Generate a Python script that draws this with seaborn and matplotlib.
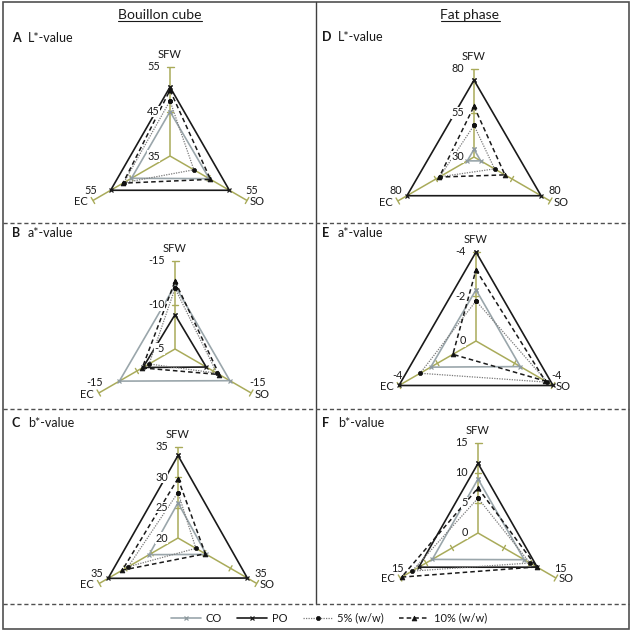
import numpy as np
import pandas as pd
import matplotlib
matplotlib.use("Agg")
import matplotlib.pyplot as plt
from matplotlib.lines import Line2D
from matplotlib.patches import Rectangle
import seaborn as sns

sns.set_theme(style="white")
plt.rcParams["font.family"] = ["Lato", "DejaVu Sans"]

W = 631
DPI = 100

# ---------------- data ----------------
spokes = ["SFW", "SO", "EC"]
series_names = ["CO", "PO", "5% (w/w)", "10% (w/w)"]
col_titles = ["Bouillon cube", "Fat phase"]
panel_letters = ["A", "B", "C", "D", "E", "F"]
panel_measures = ["L*-value", "a*-value", "b*-value", "L*-value", "a*-value", "b*-value"]

# radial range (centre value, outer value) and tick labels of each panel
A_range = (35, 55); A_ticks = [35, 45, 55]
B_range = (-5, -15); B_ticks = [-5, -10, -15]
C_range = (20, 35); C_ticks = [20, 25, 30, 35]
D_range = (30, 80); D_ticks = [30, 55, 80]
E_range = (0, -4); E_ticks = [0, -2, -4]
F_range = (0, 15); F_ticks = [0, 5, 10, 15]

# values in spoke order SFW, SO, EC
A_CO = [45.0, 45.2, 45.0]
A_PO = [50.5, 50.4, 50.4]
A_5 = [47.4, 41.2, 47.0]
A_10 = [49.8, 45.5, 47.2]

B_CO = [-12.2, -12.2, -12.3]
B_PO = [-8.9, -9.1, -9.2]
B_5 = [-11.9, -10.5, -8.4]
B_10 = [-12.7, -10.8, -9.3]

C_CO = [25.8, 25.4, 25.5]
C_PO = [33.6, 33.2, 33.3]
C_5 = [27.5, 23.4, 29.5]
C_10 = [29.8, 25.2, 30.6]

D_CO = [34.4, 34.4, 34.4]
D_PO = [73.7, 74.0, 74.0]
D_5 = [48.0, 43.5, 52.5]
D_10 = [58.8, 50.3, 52.8]

E_CO = [-2.3, -2.3, -2.35]
E_PO = [-4.0, -4.0, -4.0]
E_5 = [-1.8, -3.7, -2.9]
E_10 = [-3.2, -3.6, -1.2]

F_CO = [9.0, 8.9, 8.8]
F_PO = [11.6, 11.4, 11.4]
F_5 = [5.8, 10.0, 12.7]
F_10 = [7.5, 11.3, 14.7]

panels = [
    (A_range, A_ticks, [A_CO, A_PO, A_5, A_10]),
    (B_range, B_ticks, [B_CO, B_PO, B_5, B_10]),
    (C_range, C_ticks, [C_CO, C_PO, C_5, C_10]),
    (D_range, D_ticks, [D_CO, D_PO, D_5, D_10]),
    (E_range, E_ticks, [E_CO, E_PO, E_5, E_10]),
    (F_range, F_ticks, [F_CO, F_PO, F_5, F_10]),
]

# ---------------- layout / style ----------------
centers = [(170, 156, 89), (175, 349, 88), (178, 538, 91),
           (474, 157, 88), (476, 341, 89), (478, 533, 90)]
label_pos = [(12, 38), (12, 233), (12, 423), (322, 37), (322, 233), (322, 423)]

SPOKE_C = "#a9ab5a"
styles = [
    dict(color="#9aa6ab", linewidth=1.2, linestyle="-", marker="x", markersize=3.2,
         markeredgewidth=0.9, markeredgecolor="#8d999e"),
    dict(color="#1a1a1a", linewidth=1.2, linestyle="-", marker="x", markersize=3.2,
         markeredgewidth=0.9, markeredgecolor="#1a1a1a"),
    dict(color="#7a7a7a", linewidth=0.9, linestyle=(0, (1, 1)), marker="o", markersize=3,
         markeredgewidth=0.5, markeredgecolor="#111111", markerfacecolor="#111111"),
    dict(color="#1a1a1a", linewidth=1.1, linestyle=(0, (3, 2)), marker="^", markersize=3.5,
         markeredgewidth=0.5, markeredgecolor="#111111", markerfacecolor="#111111"),
]

fig = plt.figure(figsize=(W / DPI, W / DPI), dpi=DPI)
ov = fig.add_axes([0, 0, 1, 1], zorder=0)
ov.set_xlim(0, W)
ov.set_ylim(W, 0)
ov.axis("off")

# frame, divider, dashed separators
ov.add_patch(Rectangle((3, 2), 626, 627, fill=False, lw=1.2, ec="#505050"))
ov.plot([315.5, 315.5], [2, 604], color="#404040", lw=1.0)
for yy in [223, 409, 604]:
    ov.plot([3, 629], [yy, yy], color="#505050", lw=1.0, linestyle=(0, (3, 2)))

# column titles (underlined)
title_texts = []
for tx, title in zip([160, 470], col_titles):
    t = ov.text(tx, 15, title, ha="center", va="center", fontsize=10, color="#1a1a1a")
    title_texts.append(t)

# panel labels
for (px, py), letter, meas in zip(label_pos, panel_letters, panel_measures):
    ov.text(px, py, letter, ha="left", va="center", fontsize=9, fontweight="bold", color="#1a1a1a")
    ov.text(px + 16, py, meas, ha="left", va="center", fontsize=9, color="#1a1a1a")

ang = np.deg2rad([90, -30, 210])
L = 1.35

for (cx, cy, R), (rng, ticks, data) in zip(centers, panels):
    ax = fig.add_axes([(cx - L * R) / W, 1 - (cy + L * R) / W, 2 * L * R / W, 2 * L * R / W],
                      zorder=1)
    ax.set_facecolor("none")
    ax.set_xlim(-L, L)
    ax.set_ylim(-L, L)
    ax.axis("off")
    lo, hi = rng
    px1 = 1.0 / R  # one pixel in data units

    # spokes with caps and tick marks
    rt = [(t - lo) / (hi - lo) for t in ticks]
    for a in ang:
        ux, uy = np.cos(a), np.sin(a)
        vx, vy = -uy, ux
        ax.plot([0, ux], [0, uy], color=SPOKE_C, lw=1.1, zorder=1, solid_capstyle="butt")
        ax.plot([ux - vx * 3.5 * px1, ux + vx * 3.5 * px1],
                [uy - vy * 3.5 * px1, uy + vy * 3.5 * px1], color=SPOKE_C, lw=1.0, zorder=1)
        for r in rt:
            if 0 < r < 1:
                ax.plot([r * ux - vx * 3 * px1, r * ux + vx * 3 * px1],
                        [r * uy - vy * 3 * px1, r * uy + vy * 3 * px1], color=SPOKE_C, lw=1.0, zorder=1)

    # series
    for vals, st in zip(data, styles):
        r = (np.asarray(vals, float) - lo) / (hi - lo)
        xs = np.r_[r * np.cos(ang), r[0] * np.cos(ang[0])]
        ys = np.r_[r * np.sin(ang), r[0] * np.sin(ang[0])]
        df = pd.DataFrame({"x": xs, "y": ys})
        sns.lineplot(data=df, x="x", y="y", sort=False, estimator=None, ax=ax,
                     zorder=3, clip_on=False, **st)
    ax.set_xlim(-L, L)
    ax.set_ylim(-L, L)
    ax.axis("off")

    # tick labels on the SFW spoke
    for t, r in zip(ticks, rt):
        ax.text(-10 * px1, r, f"{t}", ha="right", va="center", fontsize=7.8, color="#1a1a1a",
                zorder=6, bbox=dict(facecolor="white", edgecolor="none", pad=0.2))
    # outer labels on EC and SO spokes
    ecx, ecy = np.cos(ang[2]), np.sin(ang[2])
    sox, soy = np.cos(ang[1]), np.sin(ang[1])
    ax.text(ecx + 4 * px1, ecy + 10 * px1, f"{ticks[-1]}", ha="right", va="center",
            fontsize=7.8, color="#1a1a1a", zorder=6)
    ax.text(sox - 2 * px1, soy + 10 * px1, f"{ticks[-1]}", ha="left", va="center",
            fontsize=7.8, color="#1a1a1a", zorder=6)
    # spoke names
    ax.text(0, 1 + 12 * px1, spokes[0], ha="center", va="center", fontsize=8, color="#1a1a1a")
    ax.text(sox + 3 * px1, soy - 1 * px1, spokes[1], ha="left", va="center", fontsize=8, color="#1a1a1a")
    ax.text(ecx - 5 * px1, ecy - 1 * px1, spokes[2], ha="right", va="center", fontsize=8, color="#1a1a1a")

# legend
handles = [Line2D([0], [0], **st) for st in styles]
fig.legend(handles, series_names, loc="center", bbox_to_anchor=(329 / W, 1 - 618 / W),
           ncol=4, frameon=False, fontsize=8, handlelength=2.7, handletextpad=0.4,
           columnspacing=1.4, numpoints=1, labelcolor="#1a1a1a")

# underline titles
fig.canvas.draw()
for t in title_texts:
    bb = t.get_window_extent()
    ov.plot([bb.x0, bb.x1], [21, 21], color="#1a1a1a", lw=0.8)

fig.savefig("out.png", dpi=DPI)
